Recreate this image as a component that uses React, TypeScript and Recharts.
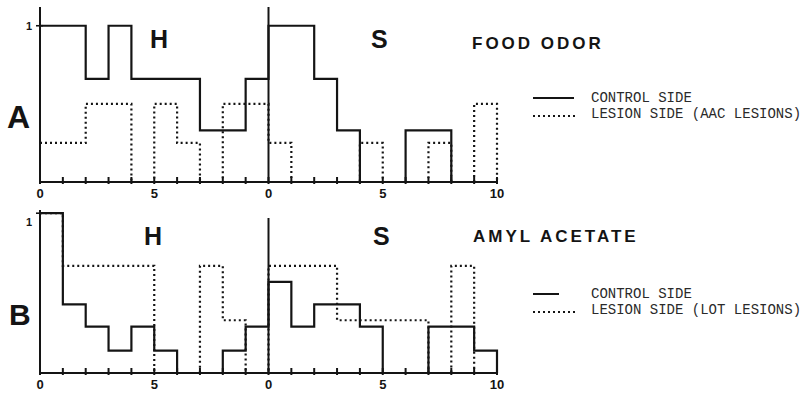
import { ComposedChart, Line, XAxis, YAxis, ReferenceLine } from "recharts"

const INK = "#141414"
const SANS = "'Liberation Sans', Arial, sans-serif"
const MONO = "'Liberation Mono', 'Courier New', monospace"

const bins = [0, 1, 2, 3, 4, 5, 6, 7, 8, 9]
const axisTicks = [0, 5, 10, 15, 20]
const axisTickLabels = ["0", "5", "0", "5", "10"]
const minorTicks = Array.from({ length: 21 }, (_, i) => i)

// A: food odor, AAC lesions
const odorControlH = [1, 1, 0.66, 1, 0.66, 0.66, 0.66, 0.33, 0.33, 0.66]
const odorControlS = [1, 1, 0.66, 0.33, 0, 0, 0.33, 0.33, 0, 0]
const odorLesionH = [0.25, 0.25, 0.5, 0.5, 0, 0.5, 0.25, 0, 0.5, 0.5]
const odorLesionS = [0.25, 0, 0, 0, 0.25, 0, 0, 0.25, 0, 0.5]

// B: amyl acetate, LOT lesions
const amylControlH = [1, 0.43, 0.29, 0.14, 0.29, 0.14, 0, 0, 0.14, 0.29]
const amylControlS = [0.57, 0.29, 0.43, 0.43, 0.29, 0, 0, 0.29, 0.29, 0.14]
const amylLesionH = [1, 0.67, 0.67, 0.67, 0.67, 0, 0, 0.67, 0.33, 0]
const amylLesionS = [0.67, 0.67, 0.67, 0.33, 0.33, 0.33, 0.33, 0, 0.67, 0]

function buildRows(controlH: number[], controlS: number[], lesionH: number[], lesionS: number[]) {
  const rows: { x: number; control: number; lesion: number }[] = []
  bins.forEach((b, i) => rows.push({ x: b, control: controlH[i], lesion: lesionH[i] }))
  bins.forEach((b, i) => rows.push({ x: 10 + b, control: controlS[i], lesion: lesionS[i] }))
  rows.push({ x: 20, control: 0, lesion: 0 }) // close off the last bin
  return rows
}

function XTick({ x, y, payload }: any) {
  const i = axisTicks.indexOf(payload.value)
  return (
    <g>
      <line x1={x} x2={x} y1={y - 5} y2={y + 2} stroke={INK} strokeWidth={2} />
      {i >= 0 && (
        <text x={x} y={y + 16} textAnchor="middle" fontFamily={SANS} fontWeight="bold" fontSize={13} fill={INK}>
          {axisTickLabels[i]}
        </text>
      )}
    </g>
  )
}

function YTick({ x, y, dy }: any) {
  return (
    <g>
      <line x1={x - 4} x2={x + 3} y1={y} y2={y} stroke={INK} strokeWidth={1.6} />
      <text x={x - 11} y={y + dy + 4} textAnchor="middle" fontFamily={SANS} fontWeight="bold" fontSize={11} fill={INK}>
        1
      </text>
    </g>
  )
}

type PanelProps = {
  rows: ReturnType<typeof buildRows>
  top: number
  height: number
  marginTop: number
  axisHeight: number
  yMax: number
  midTop: number
  oneDy: number
}

function Panel({ rows, top, height, marginTop, axisHeight, yMax, midTop, oneDy }: PanelProps) {
  return (
    <div style={{ position: "absolute", left: 0, top }}>
      <ComposedChart width={810} height={height} data={rows} margin={{ top: marginTop, right: 313, bottom: 0, left: 0 }}>
        <XAxis
          dataKey="x"
          type="number"
          domain={[0, 20]}
          ticks={minorTicks}
          interval={0}
          height={axisHeight}
          tickSize={0}
          tickMargin={0}
          axisLine={{ stroke: INK, strokeWidth: 2 }}
          tickLine={false}
          tick={(p: any) => <XTick {...p} />}
        />
        <YAxis
          type="number"
          domain={[0, yMax]}
          ticks={[1]}
          width={40}
          tickSize={0}
          tickMargin={0}
          axisLine={{ stroke: INK, strokeWidth: 2 }}
          tickLine={false}
          tick={(p: any) => <YTick {...p} dy={oneDy} />}
        />
        <ReferenceLine
          segment={[{ x: 10, y: 0 }, { x: 10, y: midTop }]}
          stroke={INK}
          strokeWidth={2}
          ifOverflow="visible"
        />
        <Line
          dataKey="lesion"
          type="stepAfter"
          stroke={INK}
          strokeWidth={2.2}
          strokeDasharray="2 3"
          dot={false}
          activeDot={false}
          isAnimationActive={false}
        />
        <Line
          dataKey="control"
          type="stepAfter"
          stroke={INK}
          strokeWidth={2.2}
          dot={false}
          activeDot={false}
          isAnimationActive={false}
        />
      </ComposedChart>
    </div>
  )
}

function Label({ x, y, size, children, spacing = 0 }: any) {
  return (
    <div
      style={{
        position: "absolute",
        left: x,
        top: y,
        fontFamily: SANS,
        fontWeight: "bold",
        fontSize: size,
        letterSpacing: spacing,
        lineHeight: 1,
        color: INK,
        whiteSpace: "nowrap",
      }}
    >
      {children}
    </div>
  )
}

function LegendBox({ x, y, lesionText, solidLen }: any) {
  const row = { display: "flex", alignItems: "center", height: 16 }
  const txt = { fontFamily: MONO, fontSize: 14, color: "#2a2a2a", marginLeft: 16, whiteSpace: "nowrap" as const }
  return (
    <div style={{ position: "absolute", left: x, top: y }}>
      <div style={row}>
        <svg width={42} height={8}>
          <line x1={0} x2={solidLen} y1={4} y2={4} stroke={INK} strokeWidth={2} />
        </svg>
        <span style={txt}>CONTROL SIDE</span>
      </div>
      <div style={row}>
        <svg width={42} height={8}>
          <line x1={0} x2={42} y1={6} y2={6} stroke={INK} strokeWidth={2} strokeDasharray="2 3" />
        </svg>
        <span style={txt}>{lesionText}</span>
      </div>
    </div>
  )
}

export default function App() {
  const odorRows = buildRows(odorControlH, odorControlS, odorLesionH, odorLesionS)
  const amylRows = buildRows(amylControlH, amylControlS, amylLesionH, amylLesionS)

  return (
    <div style={{ position: "absolute", left: 0, top: 0, width: 810, height: 394, background: "#fff", overflow: "hidden" }}>
      <Panel rows={odorRows} top={0} height={200} marginTop={7} axisHeight={18} yMax={1.12} midTop={1.12} oneDy={0} />
      <Panel rows={amylRows} top={200} height={194} marginTop={10} axisHeight={21} yMax={1.02} midTop={0.97} oneDy={9} />

      <Label x={7} y={101} size={32}>A</Label>
      <Label x={150} y={27} size={25}>H</Label>
      <Label x={371} y={27} size={25}>S</Label>
      <Label x={472} y={35} size={17} spacing={3}>FOOD ODOR</Label>
      <LegendBox x={533} y={90} lesionText="LESION SIDE (AAC LESIONS)" solidLen={41} />

      <Label x={9} y={300} size={30}>B</Label>
      <Label x={144} y={224} size={25}>H</Label>
      <Label x={373} y={224} size={25}>S</Label>
      <Label x={473} y={228} size={17} spacing={3}>AMYL ACETATE</Label>
      <LegendBox x={533} y={286} lesionText="LESION SIDE (LOT LESIONS)" solidLen={26} />
    </div>
  )
}
